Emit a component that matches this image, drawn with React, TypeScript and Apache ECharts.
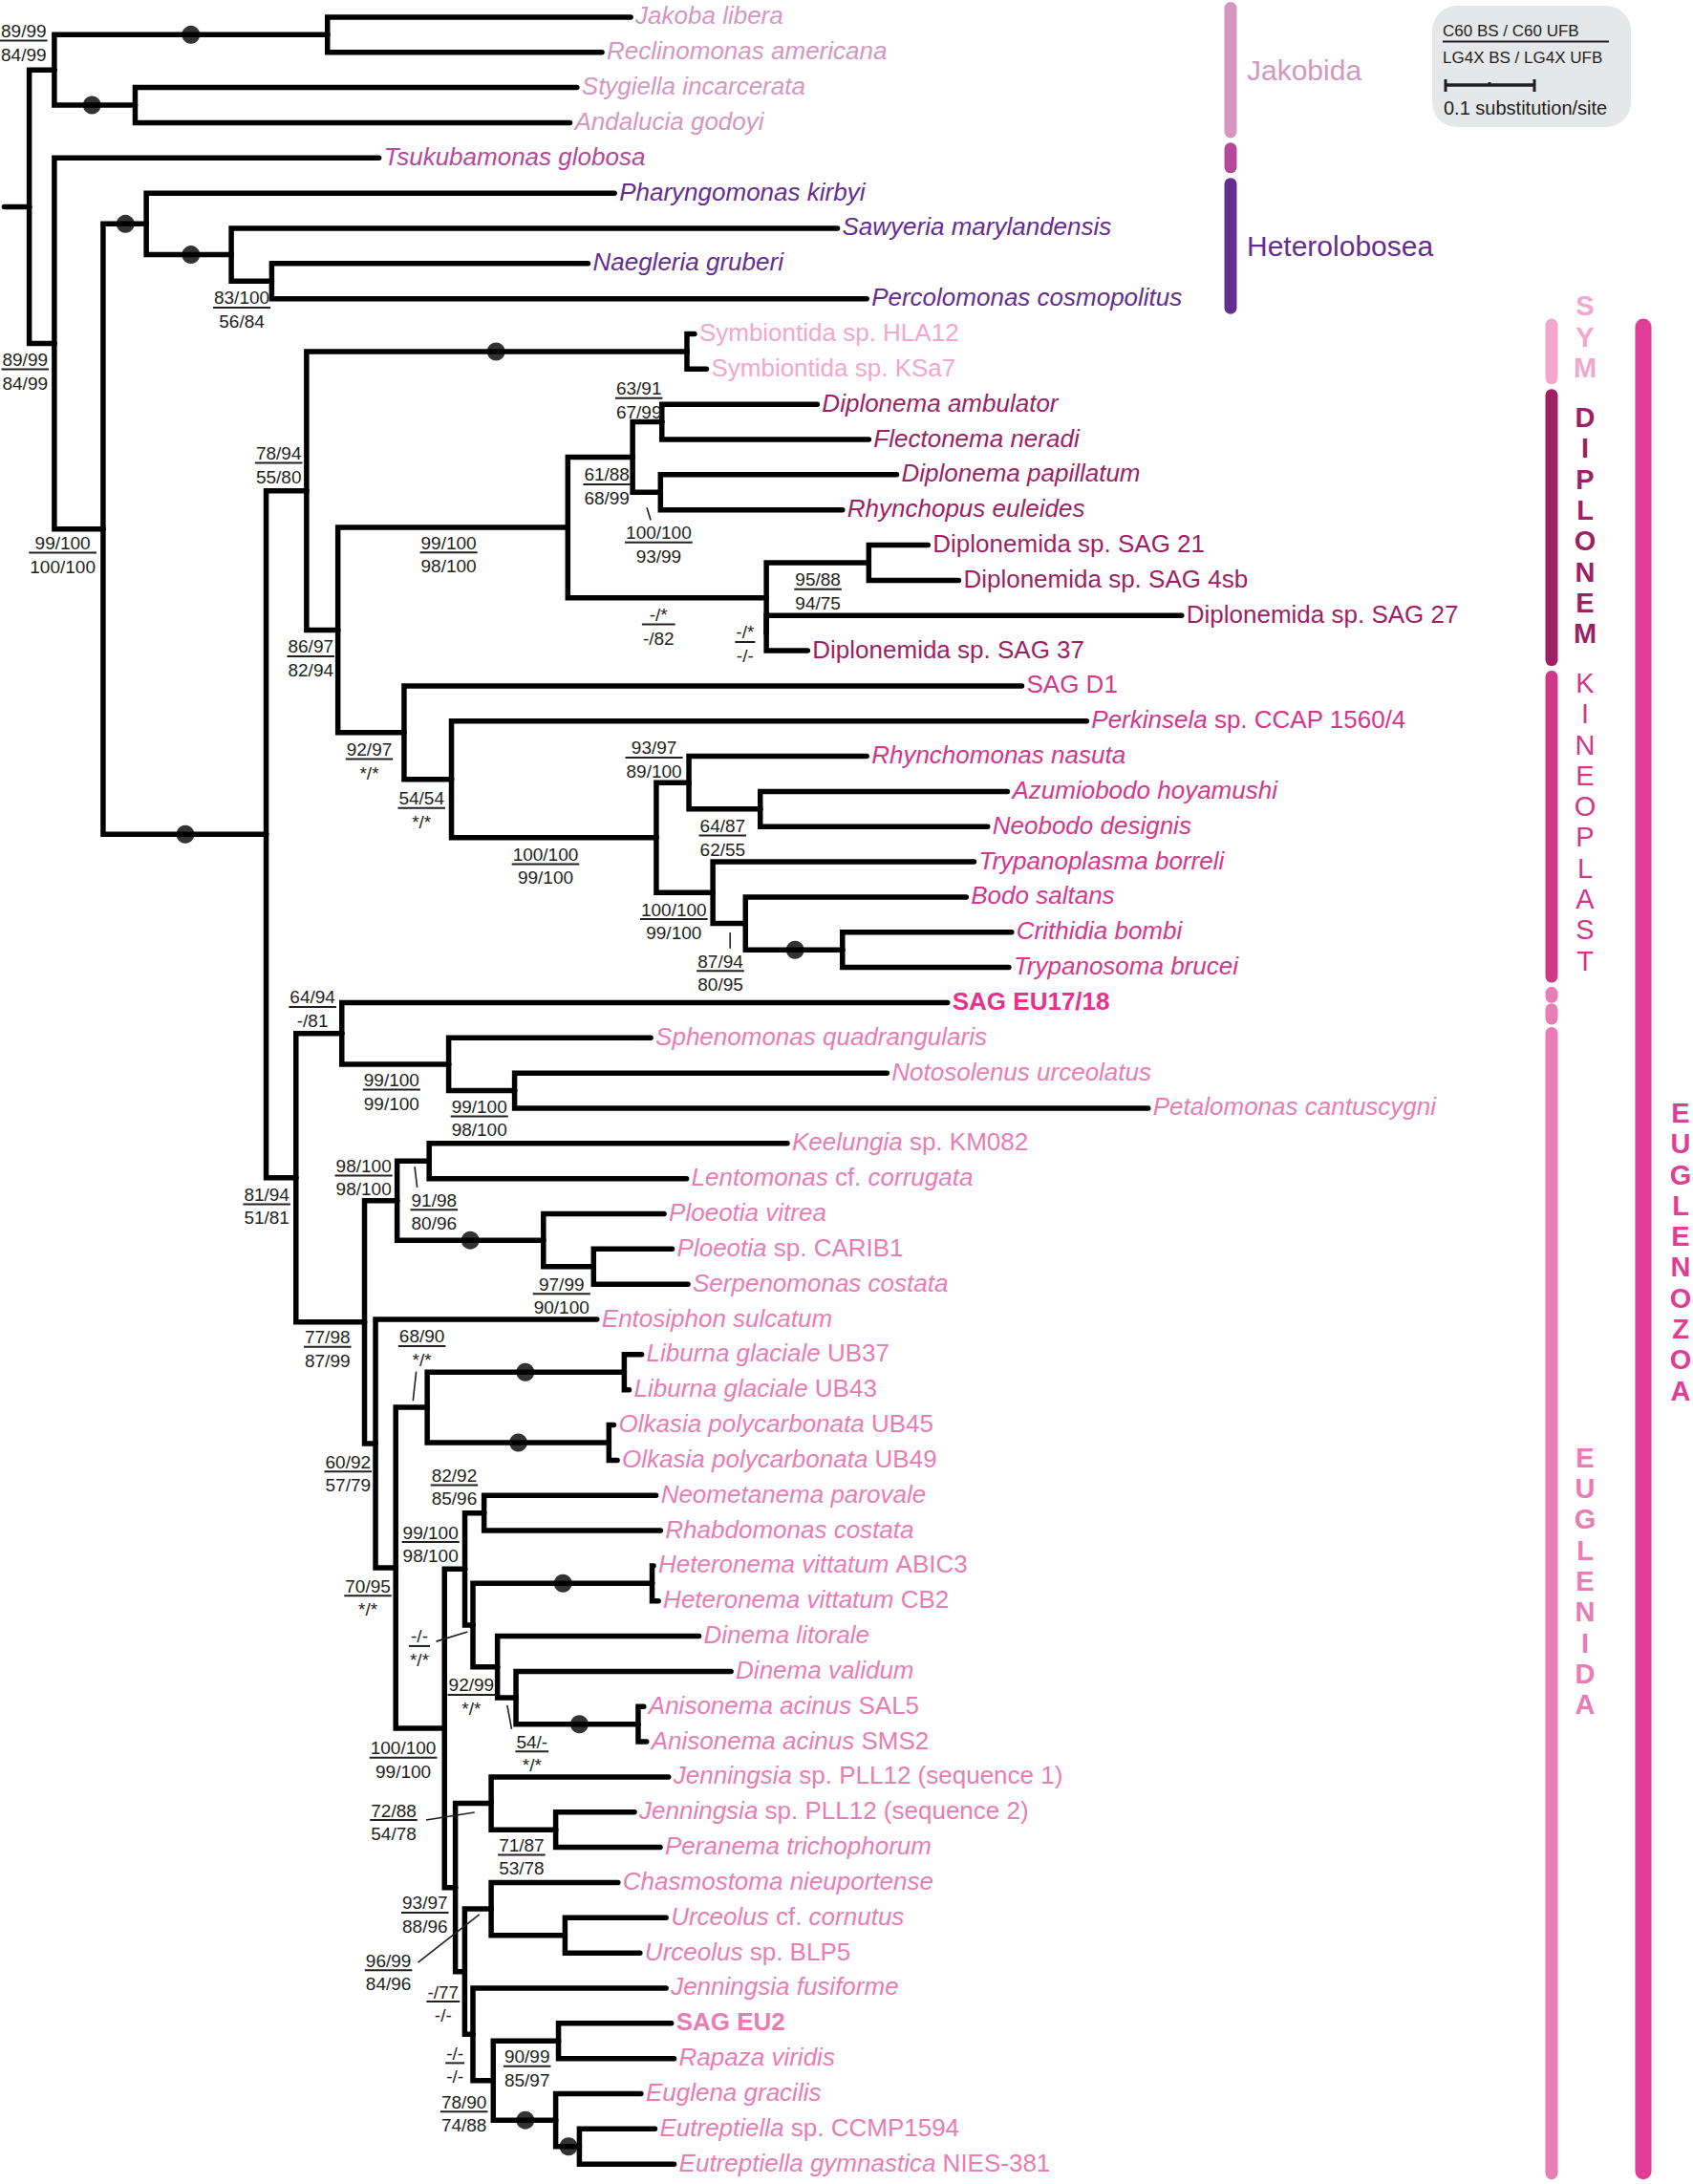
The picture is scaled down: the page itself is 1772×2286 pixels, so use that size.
import React, { useEffect, useRef } from "react";
import * as echarts from "echarts";

const CANVAS_W = 1772;
const CANVAS_H = 2286;
const DEPTH_SPAN = 1215; // tree-depth units across the page width
const UNIT = CANVAS_W / DEPTH_SPAN; // px per depth unit
const ROW0 = 12.3; // position of first leaf row (depth units)
const ROW_STEP = 25.26; // leaf row spacing (depth units)
const FONT = "'Liberation Sans', Arial, Helvetica, sans-serif";
const INK = "#231f20";

// ---------- leaves (top to bottom); _..._ marks italic text ----------
const LEAF_NAMES = [
  "_Jakoba libera_",
  "_Reclinomonas americana_",
  "_Stygiella incarcerata_",
  "_Andalucia godoyi_",
  "_Tsukubamonas globosa_",
  "_Pharyngomonas kirbyi_",
  "_Sawyeria marylandensis_",
  "_Naegleria gruberi_",
  "_Percolomonas cosmopolitus_",
  "Symbiontida sp. HLA12",
  "Symbiontida sp. KSa7",
  "_Diplonema ambulator_",
  "_Flectonema neradi_",
  "_Diplonema papillatum_",
  "_Rhynchopus euleides_",
  "Diplonemida sp. SAG 21",
  "Diplonemida sp. SAG 4sb",
  "Diplonemida sp. SAG 27",
  "Diplonemida sp. SAG 37",
  "SAG D1",
  "_Perkinsela _sp. CCAP 1560/4",
  "_Rhynchomonas nasuta_",
  "_Azumiobodo hoyamushi_",
  "_Neobodo designis_",
  "_Trypanoplasma borreli_",
  "_Bodo saltans_",
  "_Crithidia bombi_",
  "_Trypanosoma brucei_",
  "SAG EU17/18",
  "_Sphenomonas quadrangularis_",
  "_Notosolenus urceolatus_",
  "_Petalomonas cantuscygni_",
  "_Keelungia _sp. KM082",
  "_Lentomonas _cf. _corrugata_",
  "_Ploeotia vitrea_",
  "_Ploeotia _sp. CARIB1",
  "_Serpenomonas costata_",
  "_Entosiphon sulcatum_",
  "_Liburna glaciale _UB37",
  "_Liburna glaciale _UB43",
  "_Olkasia polycarbonata _UB45",
  "_Olkasia polycarbonata _UB49",
  "_Neometanema parovale_",
  "_Rhabdomonas costata_",
  "_Heteronema vittatum _ABIC3",
  "_Heteronema vittatum _CB2",
  "_Dinema litorale_",
  "_Dinema validum_",
  "_Anisonema acinus _SAL5",
  "_Anisonema acinus _SMS2",
  "_Jenningsia _sp. PLL12 (sequence 1)",
  "_Jenningsia _sp. PLL12 (sequence 2)",
  "_Peranema trichophorum_",
  "_Chasmostoma nieuportense_",
  "_Urceolus _cf. _cornutus_",
  "_Urceolus _sp. BLP5",
  "_Jenningsia fusiforme_",
  "SAG EU2",
  "_Rapaza viridis_",
  "_Euglena gracilis_",
  "_Eutreptiella _sp. CCMP1594",
  "_Eutreptiella gymnastica _NIES-381",
];
const LEAF_BOLD = [28, 57];
// depth of each leaf tip
const LEAF_TIP = [
  452.6, 432, 414, 409, 272, 441, 601, 422, 622,
  498.4, 507, 586.5, 623.5, 643.5, 604.6, 666, 688, 848, 579.6,
  733.3, 779.8, 622, 723, 708.8, 699, 693.4, 726, 724,
  680, 467, 636.5, 824, 565, 492.7, 476.6, 482.4, 493.7, 428.4,
  460.5, 451.5, 440.5, 443, 470.8, 474, 469, 472.5, 501.6, 524.6, 462, 464,
  479.8, 455.3, 473.8, 443.5, 478, 459.3, 478, 481.8, 483.8, 460, 470, 483.8,
];

// ---------- internal nodes: id, depth, children (leaf index or node id) ----------
const NODE_IDS = [
  "R0", "N1", "Jak", "JR", "SA", "N2", "N3", "Het", "H2", "H3",
  "Eugz", "N220", "Sym", "N243", "Dip", "N454", "N475a", "N475b", "N550", "N623", "N550b",
  "N290", "N324", "N471", "N494", "N546", "N512", "N535", "N605",
  "Eugd", "N245", "N322", "N369", "N261", "N285", "N308", "N390", "N426",
  "N269", "N284", "N306", "Lib", "Olk", "N318", "N333", "N347", "N339", "Het2", "N357", "N370", "Ani",
  "N326", "N352a", "N399a", "N333b", "N352b", "Urc", "N339b", "N354", "N401", "N399b", "N416",
];
const NODE_DEPTH = [
  3, 21, 39, 235, 97, 39, 74, 105, 166, 195,
  191, 220, 493, 242.5, 407.5, 454, 475, 474, 550, 623.5, 550,
  290, 324, 471, 494.4, 545.6, 511.6, 535, 604.6,
  212.4, 245.3, 322, 369.3, 261.6, 285, 308, 390, 426,
  269.5, 284, 306.6, 448, 437, 319, 333.6, 347.4, 339.4, 468, 357, 370.3, 458,
  326.8, 352.5, 398.8, 333.5, 352.5, 405.5, 339.4, 354, 400.8, 398.8, 415.8,
];
const NODE_CHILDREN: (string | number)[][] = [
  ["N1"], ["Jak", "N2"], ["JR", "SA"], [0, 1], [2, 3], [4, "N3"], ["Het", "Eugz"], [5, "H2"], [6, "H3"], [7, 8],
  ["N220", "Eugd"], ["Sym", "N243"], [9, 10], ["Dip", "N290"], ["N454", "N550"], ["N475a", "N475b"], [11, 12], [13, 14], ["N623", "N550b"], [15, 16], [17, 18],
  [19, "N324"], [20, "N471"], ["N494", "N512"], [21, "N546"], [22, 23], [24, "N535"], [25, "N605"], [26, 27],
  ["N245", "N261"], [28, "N322"], [29, "N369"], [30, 31], ["N285", "N269"], ["N308", "N390"], [32, 33], [34, "N426"], [35, 36],
  [37, "N284"], ["N306", "N318"], ["Lib", "Olk"], [38, 39], [40, 41], ["N333", "N326"], ["N347", "N339"], [42, 43], ["Het2", "N357"], [44, 45], [46, "N370"], [47, "Ani"], [48, 49],
  ["N352a", "N333b"], [50, "N399a"], [51, 52], ["N352b", "N339b"], [53, "Urc"], [54, 55], [56, "N354"], ["N401", "N399b"], [57, 58], [59, "N416"], [60, 61],
];

// ---------- fully supported branches (black dots): branch to node, depth of dot ----------
const DOT_NODE = ["JR", "SA", "Het", "H2", "Sym", "Eugz", "N605", "N390", "Lib", "Olk", "Het2", "Ani", "N399b", "N416"];
const DOT_X = [137, 66, 90, 137, 356, 133, 570.6, 337.5, 377, 372, 404, 415.8, 377, 408];

// ---------- support values (C60 BS / C60 UFB over LG4X BS / LG4X UFB) ----------
const SUPPORT_NODE = [
  "Jak", "N2", "H3", "N3", "N220", "Dip", "N475a", "N454", "N475b", "N623", "N550", "N550b", "N243",
  "N290", "N324", "N471", "N494", "N546", "N512", "N535", "Eugd", "N245", "N322", "N369", "N285",
  "N308", "N426", "N261", "N269", "N306", "N347", "N333", "N284", "N339", "N357", "N370", "N318",
  "N352a", "N399a", "N326", "N352b", "N333b", "N339b", "N401", "N354",
];
const SUPPORT_TOP = [
  "89/99", "89/99", "83/100", "99/100", "78/94", "99/100", "63/91", "61/88", "100/100", "95/88", "-/*", "-/*", "86/97",
  "92/97", "54/54", "100/100", "93/97", "64/87", "100/100", "87/94", "81/94", "64/94", "99/100", "99/100", "98/100",
  "91/98", "97/99", "77/98", "60/92", "68/90", "82/92", "99/100", "70/95", "-/-", "92/99", "54/-", "100/100",
  "72/88", "71/87", "93/97", "96/99", "-/77", "-/-", "90/99", "78/90",
];
const SUPPORT_BOTTOM = [
  "84/99", "84/99", "56/84", "100/100", "55/80", "98/100", "67/99", "68/99", "93/99", "94/75", "-/82", "-/-", "82/94",
  "*/*", "*/*", "99/100", "89/100", "62/55", "99/100", "80/95", "51/81", "-/81", "99/100", "98/100", "98/100",
  "80/96", "90/100", "87/99", "57/79", "*/*", "85/96", "98/100", "*/*", "*/*", "*/*", "*/*", "99/100",
  "54/78", "53/78", "88/96", "84/96", "-/-", "-/-", "85/97", "74/88",
];

// ---------- layout (annotation placement, not data) ----------
// label centre-x / fraction-line y, relative to its node (depth units)
const SUPPORT_OFFSET: number[][] = [
  [-22, -21], [-21, 18.5], [-21.5, 19], [-29, 17], [-20, -20], [-85.5, 18], [-16.5, -17], [-18.5, 19.5], [-1.3, 36], [-36.5, 19], [-77.4, 19], [-15.3, 6.4], [-19.5, 18.8],
  [-25, 19], [-21.5, 20.5], [-79.5, 19], [-25, -18], [-27, 19], [-28, 19], [-18, 34], [-21, 19], [-21, -19], [-41, 18.3], [-25.3, 18.4], [-24, -18],
  [3.5, 35], [-23, 19.5], [-26.6, 17.7], [-19.7, 20], [-3.8, -44], [-21.4, -20], [-24.6, -19.4], [-20, 20], [-38.4, 15], [-18.7, 20], [11.5, 38.5], [-29.6, 21],
  [-70, 12], [-24.5, 18], [-21.8, 18], [-73.7, 44], [-15.5, 21.5], [-12.9, 20.6], [-22.5, 18.2], [-21, 22.4],
];
const SUPPORT_LEADER: Record<string, number[]> = {
  N475b: [-9.8, 11, -7, 20],
  N535: [-11, 6.5, -11, 18],
  N308: [-10.4, 4, -8.6, 19],
  N306: [-7.9, -25.7, -10.2, -4.7],
  N339: [-26.4, 11.7, -3.9, 4.8],
  N370: [-6.3, 5.4, -3.1, 22.5],
  N352a: [-46.7, 12, -11.9, 6.5],
  N352b: [-52.5, 38.4, -8.5, 3.9],
};

// ---------- clade annotations ----------
const CLADE_KEYS = ["jak", "tsu", "het", "sym", "dip", "kin", "eu17", "eug", "euz"];
const CLADE_FIRST = [0, 4, 5, 9, 11, 19, 28, 29, 9];
const CLADE_LAST = [3, 4, 8, 10, 18, 27, 28, 61, 61];
const CLADE_TITLE = ["Jakobida", "", "Heterolobosea", "SYM", "DIPLONEM", "KINEOPLAST", "", "EUGLENIDA", "EUGLENOZOA"];
const LEAF_CLADE_KEY = ["jak", "tsu", "het", "sym", "dip", "kin", "eu17", "eug"];

const COLOR: Record<string, string> = {
  jak: "#d597c0",
  tsu: "#b5489b",
  het: "#662d91",
  sym: "#f2a7cc",
  dip: "#9e1f63",
  kin: "#cf3788",
  eu17: "#e4348e",
  eug: "#e87db5",
  euz: "#e23d96",
};
const LEAF_COLOR: Record<string, string> = { ...COLOR, kin: "#d4378b", eu17: "#e4328d" };

const CLADE_LAYOUT: Record<string, any> = {
  jak: { col: 1288, w: 13, mode: "h", tx: 1305, dy: 0 },
  tsu: { col: 1288, w: 13 },
  het: { col: 1288, w: 13, mode: "h", tx: 1305, dy: 0 },
  sym: { col: 1624, w: 13, mode: "v", tx: 1659, dy: -15.4, bold: true },
  dip: { col: 1624, w: 13, mode: "v", tx: 1659, dy: -2, bold: true },
  kin: { col: 1624, w: 13, mode: "v", tx: 1659, dy: -5, bold: false },
  eu17: { col: 1624, w: 13, pills: [[-16.7, 0.4], [0.8, 23]], color: "#e87db5" },
  eug: { col: 1624, w: 13, mode: "v", tx: 1659, dy: -20.7, bold: true, padTop: 11.3 },
  euz: { col: 1720, w: 17, mode: "v", tx: 1759, dy: 3, bold: true },
};

// ---------- derived geometry ----------
type Pt = { x: number; y: number };
const POS: Record<string, Pt> = {};
LEAF_TIP.forEach((t, i) => {
  POS[String(i)] = { x: t, y: i };
});
const nodeIndex = new Map<string, number>(NODE_IDS.map((id, i) => [id, i]));
function place(id: string): Pt {
  if (POS[id]) return POS[id];
  const i = nodeIndex.get(id) as number;
  const kids = NODE_CHILDREN[i].map((c) => place(String(c)));
  const y = (kids[0].y + kids[kids.length - 1].y) / 2;
  POS[id] = { x: NODE_DEPTH[i], y };
  return POS[id];
}
NODE_IDS.forEach((id) => place(id));

const EDGES: number[][] = [];
NODE_IDS.forEach((id, i) => {
  NODE_CHILDREN[i].forEach((c) => {
    const a = POS[id];
    const b = POS[String(c)];
    EDGES.push([a.x, a.y, b.x, b.y]);
  });
});

const leafClade: string[] = [];
CLADE_KEYS.forEach((k, ci) => {
  if (!LEAF_CLADE_KEY.includes(k)) return;
  for (let i = CLADE_FIRST[ci]; i <= CLADE_LAST[ci]; i++) leafClade[i] = k;
});

const RICH: Record<string, any> = {};
LEAF_CLADE_KEY.forEach((k) => {
  const base = { fontSize: 26, fontFamily: FONT, fill: LEAF_COLOR[k], color: LEAF_COLOR[k] };
  RICH[k + "i"] = { ...base, fontStyle: "italic" };
  RICH[k + "n"] = { ...base };
  RICH[k + "b"] = { ...base, fontWeight: "bold" };
});

function richName(i: number): string {
  const key = leafClade[i];
  const bold = LEAF_BOLD.includes(i);
  let out = "";
  LEAF_NAMES[i].split("_").forEach((seg, j) => {
    if (!seg) return;
    const s = bold ? "b" : j % 2 === 1 ? "i" : "n";
    out += `{${key}${s}|${seg}}`;
  });
  return out;
}

let measureCtx: CanvasRenderingContext2D | null = null;
function textWidth(s: string, font: string): number {
  if (!measureCtx) measureCtx = document.createElement("canvas").getContext("2d");
  if (!measureCtx) return s.length * 10;
  measureCtx.font = font;
  return measureCtx.measureText(s).width;
}
const SUPPORT_FONT_SIZE = 19;
const SUPPORT_FONT = `${SUPPORT_FONT_SIZE}px ${FONT}`;

function buildOption(): any {
  const yMin = -ROW0 / ROW_STEP;
  const yMax = ((DEPTH_SPAN * CANVAS_H) / CANVAS_W - ROW0) / ROW_STEP;

  const branches = {
    type: "custom",
    id: "branches",
    silent: true,
    z: 2,
    data: EDGES,
    encode: { x: [0, 2], y: [1, 3] },
    renderItem: (params: any, api: any) => {
      const p = api.coord([api.value(0), api.value(1)]);
      const m = api.coord([api.value(0), api.value(3)]);
      const c = api.coord([api.value(2), api.value(3)]);
      return {
        type: "polyline",
        shape: { points: [p, m, c] },
        style: { stroke: "#000", lineWidth: 5.5, fill: null, lineJoin: "miter", lineCap: "round" },
      };
    },
  };

  const dots = {
    type: "scatter",
    id: "dots",
    silent: true,
    z: 3,
    symbol: "circle",
    symbolSize: 19,
    itemStyle: { color: "#000" },
    data: DOT_NODE.map((id, i) => [DOT_X[i], POS[id].y]),
  };

  const leaves = {
    type: "custom",
    id: "leaves",
    silent: true,
    z: 4,
    data: LEAF_TIP.map((t, i) => [t, i]),
    encode: { x: 0, y: 1 },
    renderItem: (params: any, api: any) => {
      const i = params.dataIndex;
      const p = api.coord([api.value(0), api.value(1)]);
      return {
        type: "text",
        x: p[0] + 5,
        y: p[1] - 1.5,
        style: {
          text: richName(i),
          rich: RICH,
          align: "left",
          verticalAlign: "middle",
          fontSize: 26,
          fontFamily: FONT,
          fill: LEAF_COLOR[leafClade[i]],
        },
      };
    },
  };

  const support = {
    type: "custom",
    id: "support",
    silent: true,
    z: 5,
    data: SUPPORT_NODE.map((id) => [POS[id].x, POS[id].y]),
    encode: { x: 0, y: 1 },
    renderItem: (params: any, api: any) => {
      const i = params.dataIndex;
      const p = api.coord([api.value(0), api.value(1)]);
      const off = SUPPORT_OFFSET[i];
      const cx = p[0] + off[0] * UNIT;
      const ly = p[1] + off[1] * UNIT;
      const top = SUPPORT_TOP[i];
      const bot = SUPPORT_BOTTOM[i];
      const w = Math.max(textWidth(top, SUPPORT_FONT), textWidth(bot, SUPPORT_FONT)) + 2;
      const txt = (s: string, y: number) => ({
        type: "text",
        x: cx,
        y,
        style: {
          text: s,
          align: "center",
          verticalAlign: "middle",
          fontSize: SUPPORT_FONT_SIZE,
          fontFamily: FONT,
          fill: INK,
        },
      });
      const children: any[] = [
        txt(top, ly - 10),
        {
          type: "line",
          shape: { x1: cx - w / 2, y1: ly, x2: cx + w / 2, y2: ly },
          style: { stroke: INK, lineWidth: 2 },
        },
        txt(bot, ly + 14.5),
      ];
      const lead = SUPPORT_LEADER[SUPPORT_NODE[i]];
      if (lead) {
        children.push({
          type: "line",
          shape: {
            x1: p[0] + lead[0] * UNIT,
            y1: p[1] + lead[1] * UNIT,
            x2: p[0] + lead[2] * UNIT,
            y2: p[1] + lead[3] * UNIT,
          },
          style: { stroke: INK, lineWidth: 1.6 },
        });
      }
      return { type: "group", children };
    },
  };

  const clades = {
    type: "custom",
    id: "clades",
    silent: true,
    z: 1,
    data: CLADE_KEYS.map((k, i) => [0, CLADE_FIRST[i], CLADE_LAST[i]]),
    encode: { x: 0, y: [1, 2] },
    renderItem: (params: any, api: any) => {
      const i = params.dataIndex;
      const key = CLADE_KEYS[i];
      const lay = CLADE_LAYOUT[key];
      const yA = api.coord([0, api.value(1)])[1];
      const yB = api.coord([0, api.value(2)])[1];
      const color = lay.color || COLOR[key];
      const children: any[] = [];
      const seg = (a: number, b: number) => {
        const h = lay.w / 2;
        const y1 = Math.min(a + h, (a + b) / 2 - 0.5);
        const y2 = Math.max(b - h, (a + b) / 2 + 0.5);
        return {
          type: "line",
          shape: { x1: lay.col, y1, x2: lay.col, y2 },
          style: { stroke: color, lineWidth: lay.w, lineCap: "round" },
        };
      };
      if (lay.pills) {
        lay.pills.forEach((pp: number[]) => children.push(seg(yA + pp[0], yA + pp[1])));
      } else {
        const top = yA - (lay.padTop != null ? lay.padTop : 16);
        children.push(seg(top, yB + 16));
      }
      const title = CLADE_TITLE[i];
      const mid = (yA + yB) / 2 + (lay.dy || 0);
      if (title && lay.mode === "h") {
        children.push({
          type: "text",
          x: lay.tx,
          y: mid,
          style: { text: title, align: "left", verticalAlign: "middle", fontSize: 30, fontFamily: FONT, fill: color },
        });
      } else if (title && lay.mode === "v") {
        children.push({
          type: "text",
          x: lay.tx,
          y: mid,
          style: {
            text: title.split("").join("\n"),
            align: "center",
            verticalAlign: "middle",
            fontSize: 29,
            lineHeight: 32.3,
            fontWeight: lay.bold ? "bold" : "normal",
            fontFamily: FONT,
            fill: color,
          },
        });
      }
      return { type: "group", children };
    },
  };

  const legend = [
    { type: "rect", shape: { x: 1499, y: 6, width: 208, height: 127, r: 26 }, style: { fill: "#e6e7e8" } },
    { type: "text", x: 1510, y: 32, style: { text: "C60 BS / C60 UFB", fontSize: 17, fontFamily: FONT, fill: INK, verticalAlign: "middle" } },
    { type: "line", shape: { x1: 1510, y1: 43.5, x2: 1684, y2: 43.5 }, style: { stroke: INK, lineWidth: 2 } },
    { type: "text", x: 1510, y: 60, style: { text: "LG4X BS / LG4X UFB", fontSize: 17, fontFamily: FONT, fill: INK, verticalAlign: "middle" } },
    { type: "line", shape: { x1: 1513, y1: 89, x2: 1606, y2: 89 }, style: { stroke: INK, lineWidth: 3.5 } },
    { type: "line", shape: { x1: 1513, y1: 83, x2: 1513, y2: 96 }, style: { stroke: INK, lineWidth: 3 } },
    { type: "line", shape: { x1: 1606, y1: 83, x2: 1606, y2: 96 }, style: { stroke: INK, lineWidth: 3 } },
    { type: "line", shape: { x1: 1559, y1: 86, x2: 1559, y2: 90 }, style: { stroke: INK, lineWidth: 3 } },
    { type: "text", x: 1511, y: 113, style: { text: "0.1 substitution/site", fontSize: 20, fontFamily: FONT, fill: INK, verticalAlign: "middle" } },
  ];

  return {
    animation: false,
    backgroundColor: "#ffffff",
    grid: { left: 0, top: 0, width: CANVAS_W, height: CANVAS_H, containLabel: false },
    xAxis: { type: "value", min: 0, max: DEPTH_SPAN, show: false },
    yAxis: { type: "value", min: yMin, max: yMax, inverse: true, show: false },
    tooltip: { show: false },
    graphic: legend,
    series: [clades, branches, dots, leaves, support],
  };
}

export default function App() {
  const ref = useRef<HTMLDivElement | null>(null);
  useEffect(() => {
    if (!ref.current) return;
    const chart = echarts.init(ref.current, undefined, { renderer: "svg" });
    chart.setOption(buildOption());
    return () => chart.dispose();
  }, []);
  return (
    <div
      ref={ref}
      style={{ position: "absolute", left: 0, top: 0, width: CANVAS_W, height: CANVAS_H, background: "#fff" }}
    />
  );
}
